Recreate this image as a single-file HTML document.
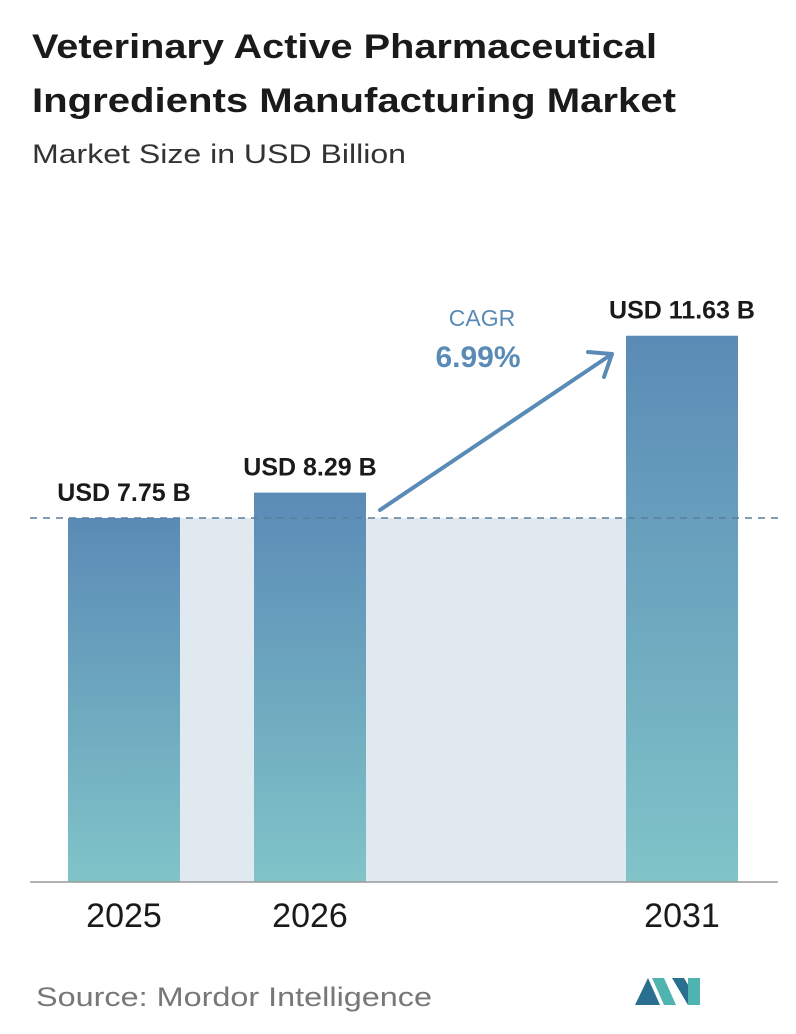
<!DOCTYPE html>
<html><head><meta charset="utf-8">
<style>
body{margin:0;background:#fff;width:796px;height:1034px;overflow:hidden;font-family:"Liberation Sans",sans-serif;}
svg{display:block}
</style></head>
<body>
<svg width="796" height="1034">
<defs>
<linearGradient id="bg" x1="0" y1="0" x2="0" y2="1">
<stop offset="0" stop-color="#5a8bb6"/><stop offset="1" stop-color="#80c4c8"/>
</linearGradient>
</defs>
<text x="32" y="58" font-size="34" font-weight="bold" fill="#1a1a1a" textLength="625" lengthAdjust="spacingAndGlyphs">Veterinary Active Pharmaceutical</text>
<text x="32" y="112" font-size="34" font-weight="bold" fill="#1a1a1a" textLength="644" lengthAdjust="spacingAndGlyphs">Ingredients Manufacturing Market</text>
<text x="32" y="163" font-size="27" fill="#333" textLength="374" lengthAdjust="spacingAndGlyphs">Market Size in USD Billion</text>
<g id="plot"></g>
<text x="36" y="1006" font-size="27" fill="#777" textLength="396" lengthAdjust="spacingAndGlyphs">Source:  Mordor Intelligence</text>
<g>
<polygon points="635,1005 648,978 660,1005" fill="#2a6f8f"/>
<polygon points="652,978 664,978 676,1005 664,1005" fill="#4fb3b0"/>
<polygon points="672,978 684,978 700,1005 688,1005" fill="#2a6f8f"/>
<rect x="688" y="978" width="12" height="27" fill="#4fb3b0"/>
</g>
</svg>
<script>
const categories=["2025","2026","2031"];
const values=[7.75,8.29,11.63];
const valueLabels=["USD 7.75 B","USD 8.29 B","USD 11.63 B"];
const cagrText="6.99%";
const ns="http://www.w3.org/2000/svg";
const g=document.getElementById('plot');
const baseY=882, scale=46.97;
const xs=[68,254,626], bw=112;
const y=v=>baseY-v*scale;
function mk(t,a){const e=document.createElementNS(ns,t);for(const k in a)e.setAttribute(k,a[k]);g.appendChild(e);return e;}
const bgRect=mk('rect',{x:xs[0]+bw,y:y(values[0]),width:xs[2]-xs[0]-bw,height:baseY-y(values[0]),fill:'#e0e8f0'});


categories.forEach((c,i)=>{
 const r=mk('rect',{x:xs[i],y:y(values[i]),width:bw,height:baseY-y(values[i]),fill:'url(#bg)'});
 
 
 const t=mk('text',{x:xs[i]+bw/2,y:y(values[i])-17,'font-size':25,'font-weight':'bold','text-anchor':'middle',fill:'#1a1a1a'});
 t.textContent=valueLabels[i];
 
 
 const l=mk('text',{x:xs[i]+bw/2,y:927,'font-size':34,'text-anchor':'middle',fill:'#1a1a1a'});
 l.textContent=c;
 
 
});
const d=mk('line',{x1:30,x2:778,y1:y(values[0]),y2:y(values[0]),stroke:'#5a7f9c','stroke-width':1.5,'stroke-dasharray':'7,6'});


const ax=mk('line',{x1:30,x2:778,y1:baseY,y2:baseY,stroke:'#999','stroke-width':1.5});


const ar=mk('path',{d:'M380 510 L612 354 M588 352 L612 354 L604 377',stroke:'#5a8bb6','stroke-width':4,fill:'none','stroke-linecap':'round','stroke-linejoin':'round'});


const c1=mk('text',{x:482,y:326,'font-size':23,'text-anchor':'middle',fill:'#5a8bb6'});
c1.textContent='CAGR';


const c2=mk('text',{x:478,y:367,'font-size':30,'font-weight':'bold','text-anchor':'middle',fill:'#5a8bb6'});
c2.textContent=cagrText;


</script>
</body></html>
